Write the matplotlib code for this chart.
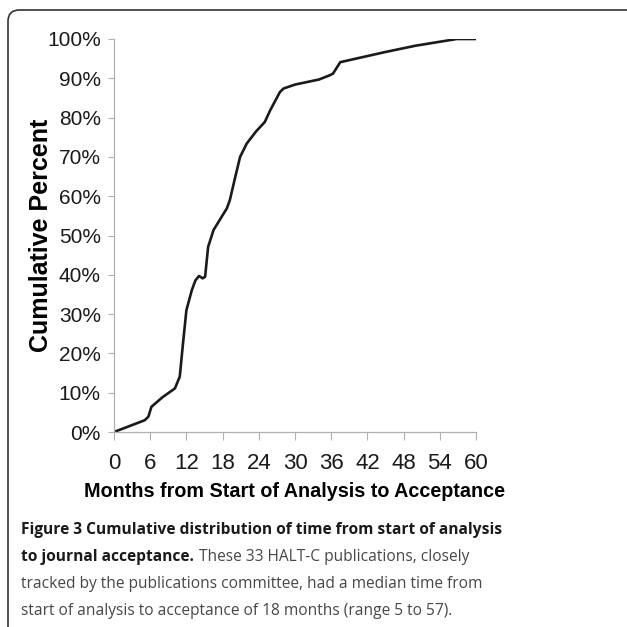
import matplotlib.pyplot as plt
from matplotlib.patches import FancyBboxPatch
from matplotlib.ticker import PercentFormatter

# values
months = [0, 5.1, 5.7, 6.2, 8.0, 10.1, 10.9, 11.4, 12.0, 12.9, 13.5, 14.1,
          14.7, 15.1, 15.6, 16.5, 18.7, 19.2, 20.1, 20.9, 22.0, 23.5, 25.0,
          25.9, 27.5, 28.1, 30.0, 34.0, 35.8, 36.3, 37.5, 45.0, 50.0, 56.8, 60]
cum_pct = [0, 3.0, 3.9, 6.4, 8.8, 11.1, 14.1, 22.0, 31.0, 36.1, 38.6, 39.7,
           39.1, 39.5, 47.1, 51.4, 56.9, 59.0, 64.9, 70.0, 73.4, 76.4, 78.9,
           81.9, 86.5, 87.4, 88.4, 89.7, 90.8, 91.2, 94.1, 96.7, 98.3, 100, 100]
xticks = list(range(0, 61, 6))

fig = plt.figure(figsize=(6.27, 6.27), dpi=100)
ax = fig.add_axes([114/627, 1 - 432/627, 362/627, 393/627])

ax.plot(months, cum_pct, color='#1a1a1a', lw=1.9, solid_joinstyle='round')
ax.set_xlim(0, 60)
ax.set_ylim(0, 100)
ax.set_xticks(xticks)
ax.set_yticks(range(0, 101, 10))
ax.yaxis.set_major_formatter(PercentFormatter(decimals=0))
for s in ['top', 'right']:
    ax.spines[s].set_visible(False)
for s in ['left', 'bottom']:
    ax.spines[s].set_color('#b0b0b0')
    ax.spines[s].set_linewidth(0.9)
ax.tick_params(colors='#b0b0b0', labelcolor='#1a1a1a')
ax.tick_params(axis='x', length=6, pad=9, labelsize=16)
ax.tick_params(axis='y', length=4.5, pad=5, labelsize=15)
for lab in ax.get_xticklabels() + ax.get_yticklabels():
    lab.set_family('Liberation Sans')

ax.set_xlabel('Months from Start of Analysis to Acceptance', fontsize=14.2,
              fontweight='bold', family='Liberation Sans', labelpad=6)
ax.set_ylabel('Cumulative Percent', fontsize=18, fontweight='bold',
              family='Liberation Sans', labelpad=-4)

# frame around figure and caption, right side runs past the edge
frame = FancyBboxPatch((8/627, -0.05), 1.05, 1 - 10/627 + 0.05,
                       boxstyle='round,pad=0,rounding_size=0.018',
                       transform=fig.transFigure, fill=False,
                       ec='#333333', lw=1.2)
fig.patches.append(frame)

cap_x = 21/627
cap_size = 11.2
reg = dict(fontsize=cap_size, family='Open Sans', va='center', color='#474747')
fig.text(cap_x, 1 - 530/627, 'Figure 3 Cumulative distribution of time from start of analysis',
         fontsize=cap_size, fontweight='bold', family='Open Sans', va='center',
         color='#1a1a1a')
t_bold = fig.text(cap_x, 1 - 557/627, 'to journal acceptance.', fontsize=cap_size,
                  fontweight='bold', family='Open Sans', va='center', color='#1a1a1a')
r = fig.canvas.get_renderer()
bb = t_bold.get_window_extent(r)
fig.text((bb.x1 + 5) / 627, 1 - 557/627, 'These 33 HALT-C publications, closely', **reg)
fig.text(cap_x, 1 - 584/627, 'tracked by the publications committee, had a median time from', **reg)
fig.text(cap_x, 1 - 611/627, 'start of analysis to acceptance of 18 months (range 5 to 57).', **reg)

fig.savefig('out.png', dpi=100)
